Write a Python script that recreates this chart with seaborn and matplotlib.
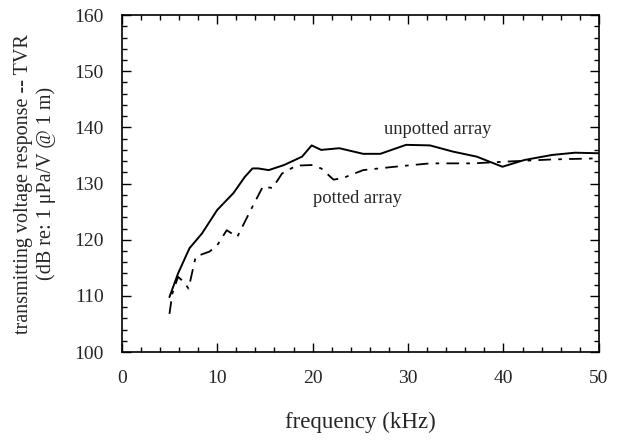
import matplotlib
matplotlib.use('Agg')
import matplotlib.pyplot as plt
from matplotlib.ticker import MultipleLocator
import seaborn as sns

# 주파수 (kHz) / TVR (dB)
freq_unpotted = [5.0, 5.9, 7.1, 8.4, 10.0, 11.7, 12.9, 13.7, 14.3, 15.4, 17.0, 18.9, 19.9,
                 20.9, 22.8, 25.3, 27.1, 29.8, 32.3, 34.7, 37.2, 39.9, 42.2, 45.1, 47.5, 50.0]
tvr_unpotted = [109.8, 114.0, 118.5, 121.1, 125.3, 128.3, 131.2, 132.7, 132.7, 132.4, 133.3,
                134.8, 136.8, 136.0, 136.3, 135.3, 135.3, 136.9, 136.8, 135.7, 134.8, 133.0,
                134.2, 135.1, 135.5, 135.4]

freq_potted = [5.0, 5.3, 5.9, 6.5, 7.0, 7.75, 9.2, 10.0, 11.0, 12.1, 13.7, 14.8, 15.8, 16.8,
               18.3, 19.9, 20.9, 22.2, 23.2, 25.3, 28.6, 32.3, 36.8, 40.1, 45.1, 50.0]
tvr_potted = [106.8, 110.4, 113.4, 112.5, 111.3, 117.0, 117.9, 119.0, 121.7, 120.5, 125.9,
              129.5, 129.2, 131.8, 133.2, 133.3, 132.7, 130.7, 131.0, 132.4, 133.0, 133.6,
              133.6, 133.9, 134.3, 134.5]

sns.set_style('ticks')
plt.rcParams['font.family'] = ['Liberation Serif', 'DejaVu Serif']

fig = plt.figure(figsize=(6.18, 4.44), dpi=100)
ax = fig.add_axes([0.197, 0.207, 0.772, 0.759])

sns.lineplot(x=freq_unpotted, y=tvr_unpotted, ax=ax, color='black', linewidth=1.4)
sns.lineplot(x=freq_potted, y=tvr_potted, ax=ax, color='black', linewidth=1.3,
             linestyle=(0, (7, 4, 2, 4)))

ax.text(33.1, 139.7, 'unpotted array', ha='center', va='center', fontsize=13.3)
ax.text(24.7, 127.4, 'potted array', ha='center', va='center', fontsize=13.3)

ax.set_xlim(0, 50)
ax.set_ylim(100, 160)
ax.xaxis.set_major_locator(MultipleLocator(10))
ax.xaxis.set_minor_locator(MultipleLocator(2))
ax.yaxis.set_major_locator(MultipleLocator(10))
ax.yaxis.set_minor_locator(MultipleLocator(2))
ax.tick_params(which='both', direction='in', top=True, right=True, color='black',
               labelsize=14, pad=13)
ax.tick_params(which='major', length=6.5, width=1)
ax.tick_params(which='minor', length=3.6, width=1)
for s in ax.spines.values():
    s.set_color('black')
    s.set_linewidth(1.2)

ax.set_xlabel('frequency (kHz)', fontsize=16.5, labelpad=18)
ax.set_ylabel('transmitting voltage response -- TVR\n(dB re: 1 \u03bcPa/V @ 1 m)',
              fontsize=14.5, labelpad=13)

fig.savefig('out.png', dpi=100)
